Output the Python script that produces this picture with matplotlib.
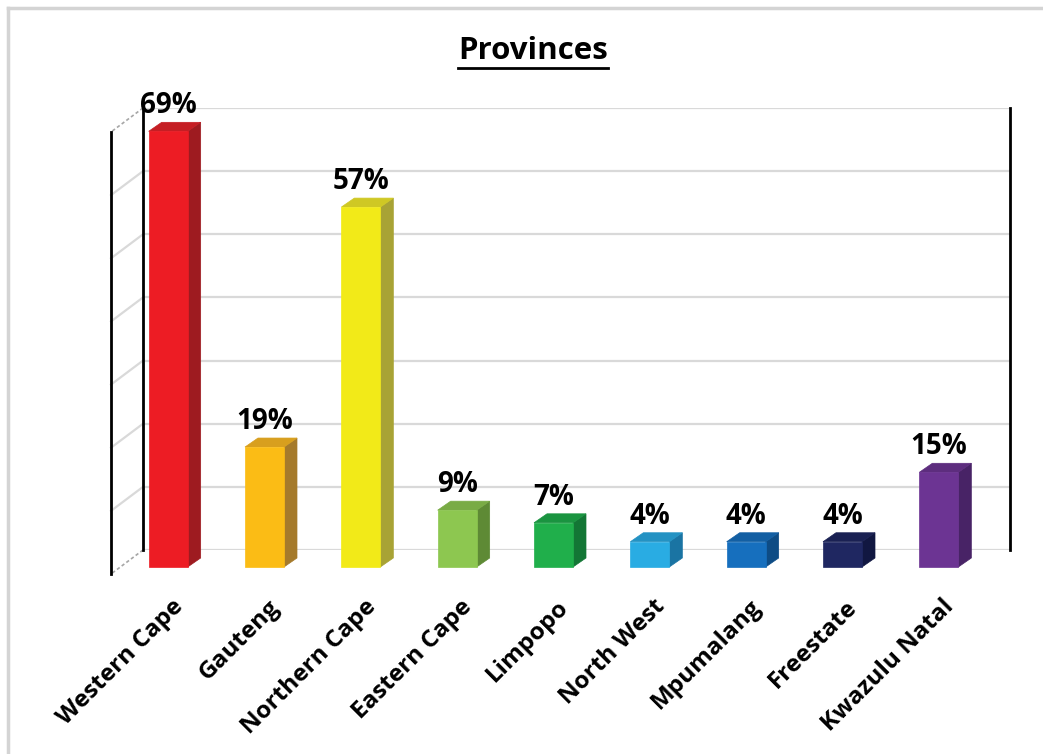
import matplotlib
matplotlib.use("Agg")
import matplotlib.pyplot as plt
from matplotlib.patches import Polygon
from matplotlib.lines import Line2D

plt.rcParams["font.family"] = ["Open Sans", "DejaVu Sans"]

# ── data ────────────────────────────────────────────────────────────────────
provinces = ["Western Cape", "Gauteng", "Northern Cape", "Eastern Cape", "Limpopo",
             "North West", "Mpumalang", "Freestate", "Kwazulu Natal"]
shares = [69, 19, 57, 9, 7, 4, 4, 4, 15]
value_labels = ["69%", "19%", "57%", "9%", "7%", "4%", "4%", "4%", "15%"]

front_colors = ["#ED1C24", "#FBBC15", "#F2EA18", "#8DC750", "#20AF4B",
                "#29ACE3", "#166FBE", "#1F2761", "#6C3493"]
side_colors = ["#9E1B20", "#A57A2B", "#A8A335", "#5E8A35", "#137635",
               "#1A74A3", "#0E4C85", "#111741", "#482366"]
top_colors = ["#C51E24", "#D89F1E", "#CFC824", "#79AB45", "#1A9440",
              "#2392C3", "#135FA3", "#1A2153", "#5D2D7E"]

y_max = 70
y_step = 10

# ── figure / back wall geometry (pixels) ─────────────────────────────────────
W, H, DPI = 1043, 754, 100
fig = plt.figure(figsize=(W / DPI, H / DPI), dpi=DPI)
wall_left, wall_right, wall_top, wall_bottom = 143, 1010, 108, 550
ax = fig.add_axes([wall_left / W, 1 - wall_bottom / H,
                   (wall_right - wall_left) / W, (wall_bottom - wall_top) / H])
n = len(provinces)
ax.set_xlim(-0.5, n - 0.5)
ax.set_ylim(0, y_max)
ax.axis("off")

px_x = (wall_right - wall_left) / n          # pixels per category
px_y = (wall_bottom - wall_top) / y_max      # pixels per percent


def shift(dx_px, dy_px):
    """Pixel offset (right, down) expressed in data units."""
    return dx_px / px_x, -dy_px / px_y


fx, fy = shift(-23, 17)    # bar front face
bx, by = shift(-10, 8)     # bar back face
sx, sy = shift(-32, 24)    # front edge of floor / side wall
half_w = 19.5 / px_x

# back-wall gridlines + side wall gridlines
for g in range(0, y_max + 1, y_step):
    ax.plot([-0.5, n - 0.5], [g, g], color="#D9D9D9", lw=1.6, zorder=1)
    edge = g in (0, y_max)
    ax.plot([-0.5, -0.5 + sx], [g, g + sy], color="#A6A6A6" if edge else "#D9D9D9",
            lw=1.2 if edge else 1.6, ls=(0, (2, 1.5)) if edge else "-", zorder=1,
            clip_on=False)

# wall edges
ax.plot([-0.5, -0.5], [0, y_max], color="black", lw=2, zorder=2, clip_on=False)
ax.plot([-0.5 + sx, -0.5 + sx], [sy, y_max + sy], color="black", lw=2, zorder=2,
        clip_on=False)
ax.plot([n - 0.5, n - 0.5], [0, y_max], color="black", lw=2, zorder=2, clip_on=False)

# 3D columns
for i, v in enumerate(shares):
    x0, x1 = i - half_w, i + half_w
    front = [(x0 + fx, fy), (x1 + fx, fy), (x1 + fx, v + fy), (x0 + fx, v + fy)]
    side = [(x1 + fx, fy), (x1 + bx, by), (x1 + bx, v + by), (x1 + fx, v + fy)]
    top = [(x0 + fx, v + fy), (x0 + bx, v + by), (x1 + bx, v + by), (x1 + fx, v + fy)]
    for poly, col in ((side, side_colors[i]), (top, top_colors[i]), (front, front_colors[i])):
        ax.add_patch(Polygon(poly, closed=True, facecolor=col, edgecolor=col, lw=0.5,
                             zorder=3, clip_on=False))
    ax.annotate(value_labels[i], (i + fx, v + fy), xytext=(0, 18 * 0.72),
                textcoords="offset points", ha="center", va="baseline",
                fontsize=20, fontweight="bold", color="black", zorder=5,
                annotation_clip=False)
    lx, ly = shift(3, 45)
    ax.text(i + fx + lx, ly, provinces[i], rotation=45, rotation_mode="anchor",
            ha="right", va="top", fontsize=17.5, fontweight="bold", color="black",
            clip_on=False)

# title with underline
title = fig.text(533 / W, 1 - 59 / H, "Provinces", ha="center", va="baseline",
                 fontsize=22.5, fontweight="bold", color="black")
fig.canvas.draw()
bb = title.get_window_extent().transformed(fig.transFigure.inverted())
fig.add_artist(Line2D([bb.x0, bb.x1], [1 - 68 / H] * 2, color="black", lw=2,
                      transform=fig.transFigure))

# light chart-area border (top and left edges visible)
fig.add_artist(Line2D([8 / W, 1], [1 - 8 / H] * 2, color="#D4D4D4", lw=2.5,
                      transform=fig.transFigure))
fig.add_artist(Line2D([8 / W] * 2, [0, 1 - 8 / H], color="#D4D4D4", lw=2.5,
                      transform=fig.transFigure))

fig.savefig("out.png", dpi=DPI)
